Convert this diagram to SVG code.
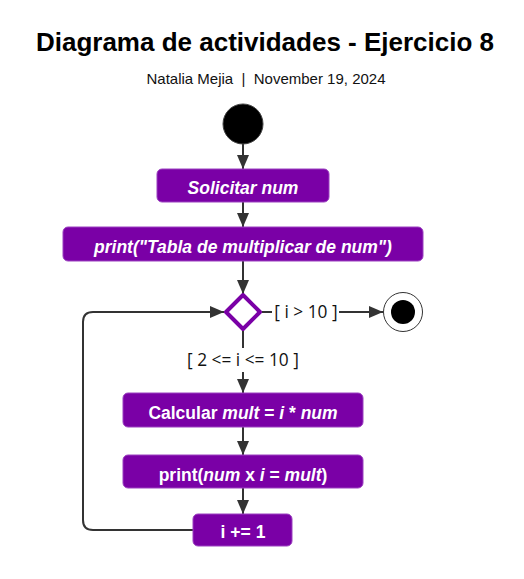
<svg xmlns="http://www.w3.org/2000/svg" width="524" height="579" viewBox="0 0 524 579">
<defs>
<style>
.box{fill:#7a00a6;stroke:#9b40c0;stroke-width:1}
.bt{fill:#fff;font-family:"Liberation Sans",Arial,sans-serif;font-size:17.5px;font-weight:bold;text-anchor:middle}
.it{font-style:italic}
.edge{fill:none;stroke:#333;stroke-width:2}
.lbl{fill:#111;font-family:"Open Sans","Liberation Sans",sans-serif;font-size:17.3px}
</style>
<marker id="ah" viewBox="0 0 14 12" refX="14" refY="6" markerWidth="14" markerHeight="12" markerUnits="userSpaceOnUse" orient="auto">
<path d="M0,0 L14,6 L0,12 Z" fill="#333"/>
</marker>
</defs>
<rect width="524" height="579" fill="#fff"/>
<text x="265" y="51" text-anchor="middle" font-family="'Liberation Sans',Arial,sans-serif" font-size="26" font-weight="bold" fill="#000">Diagrama de actividades - Ejercicio 8</text>
<text x="266" y="84" text-anchor="middle" font-family="'Liberation Sans',Arial,sans-serif" font-size="15" fill="#111" xml:space="preserve" style="white-space:pre">Natalia Mejia  |  November 19, 2024</text>
<g id="connectors">
<path class="edge" d="M243,144 V169" marker-end="url(#ah)"/>
<path class="edge" d="M243,202 V227" marker-end="url(#ah)"/>
<path class="edge" d="M243,261 V294" marker-end="url(#ah)"/>
<path class="edge" d="M262,312 H272"/>
<path class="edge" d="M339,312 H383" marker-end="url(#ah)"/>
<path class="edge" d="M243,331 V348"/>
<path class="edge" d="M243,372 V393" marker-end="url(#ah)"/>
<path class="edge" d="M243,427 V455" marker-end="url(#ah)"/>
<path class="edge" d="M243,488 V514" marker-end="url(#ah)"/>
<path class="edge" d="M193,530 H93 Q83,530 83,520 V322 Q83,312 93,312 H224" marker-end="url(#ah)"/>
<text class="lbl" x="306" y="318" text-anchor="middle">[ i &gt; 10 ]</text>
<text class="lbl" x="243" y="366" text-anchor="middle">[ 2 &lt;= i &lt;= 10 ]</text>
</g>
<g id="start"><circle cx="243" cy="124" r="20" fill="#000" stroke="#444" stroke-width="1"/></g>
<g id="solicitar"><rect class="box" x="157" y="169" width="172" height="33" rx="5"/><text class="bt it" x="243" y="194">Solicitar num</text></g>
<g id="printTabla"><rect class="box" x="63" y="227" width="360" height="34" rx="5"/><text class="bt it" x="243" y="252.5">print("Tabla de multiplicar de num")</text></g>
<g id="decision"><path d="M243,295 L260,312 L243,329 L226,312 Z" fill="#fff" stroke="#7a00a6" stroke-width="4" stroke-linejoin="round"/></g>
<g id="end"><circle cx="403" cy="312" r="19.5" fill="#fff" stroke="#333" stroke-width="1"/><circle cx="403" cy="312" r="12" fill="#000"/></g>
<g id="calcular"><rect class="box" x="123" y="393" width="240" height="34" rx="5"/><text class="bt" x="243" y="418.5">Calcular <tspan class="it">mult</tspan> = <tspan class="it">i</tspan> * <tspan class="it">num</tspan></text></g>
<g id="printMult"><rect class="box" x="123" y="455" width="240" height="33" rx="5"/><text class="bt" x="243" y="480.5">print(<tspan class="it">num</tspan> x <tspan class="it">i</tspan> = <tspan class="it">mult</tspan>)</text></g>
<g id="incremento"><rect class="box" x="193" y="514" width="99" height="32" rx="5"/><text class="bt" x="243" y="538">i += 1</text></g>
</svg>
